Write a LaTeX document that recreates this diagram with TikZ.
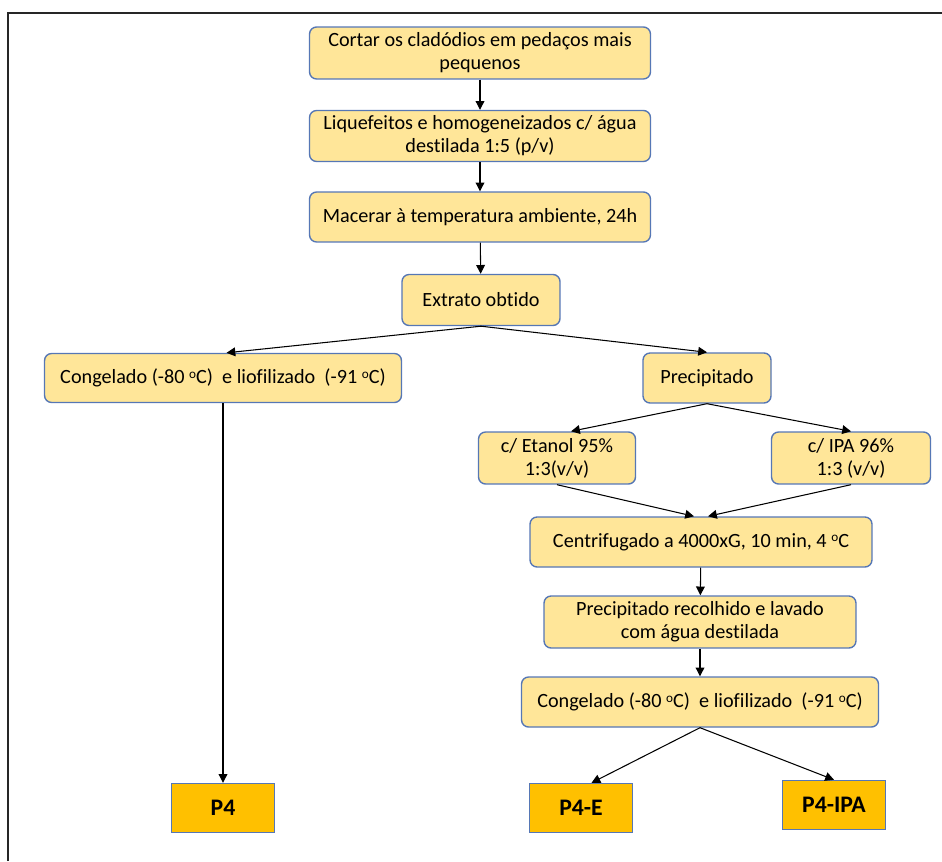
\documentclass[tikz,border=0pt]{standalone}
\usepackage{fontspec}
\setmainfont[Ligatures=NoCommon]{Carlito}
\usepackage{tikz}
\usepackage{xcolor}
\usetikzlibrary{arrows.meta, positioning}
\definecolor{boxfill}{HTML}{FFE699}
\definecolor{boxline}{HTML}{5677B5}
\definecolor{endfill}{HTML}{FFC000}
\tikzstyle{process} = [draw=boxline, fill=boxfill, rounded corners=4pt, thick, align=center, minimum height=1cm, inner sep=2pt, font=\fontsize{11.5}{13}\selectfont]
\tikzstyle{product} = [draw=boxline, fill=endfill, thick, minimum width=2.05cm, minimum height=0.98cm, font=\fontsize{13.5}{15}\selectfont\bfseries]
\tikzstyle{arrow} = [semithick,-{Triangle[length=5pt,width=5pt]}]
\newcommand{\dego}{\raisebox{0.55ex}{\fontsize{7.5}{8}\selectfont o}}

\begin{document}
\begin{tikzpicture}[x=0.02cm, y=-0.02cm]
    \useasboundingbox (0,0) rectangle (942,861);
    % Outline of the frame
    \draw[line width=1.3pt, black!85] (8,861) -- (8,13) -- (942,13);

    % Main column
    \node (corte) [process, minimum width=6.82cm, minimum height=1.04cm] at (480,53) {Cortar os cladódios em pedaços mais\\pequenos};
    \node (liquef) [process, minimum width=6.82cm, minimum height=1.02cm] at (480,136) {Liquefeitos e homogeneizados c/ água\\destilada 1:5 (p/v)};
    \node (macer) [process, minimum width=6.82cm] at (480,217) {Macerar à temperatura ambiente, 24h};
    \node (extrato) [process, minimum width=3.16cm, minimum height=1.02cm] at (481,300) {Extrato obtido};

    % Left branch
    \node (congA) [process, minimum width=7.14cm, minimum height=0.98cm] at (223,378) {Congelado (-80 \dego C) ~e liofilizado ~(-91 \dego C)};
    \node (pfour) [product] at (223,808) {P4};

    % Right branch
    \node (precip) [process, minimum width=2.56cm] at (707,378) {Precipitado};
    \node (etanol) [process, minimum width=3.14cm, minimum height=1.04cm] at (557,458) {c/ Etanol 95\%\\1:3(v/v)};
    \node (ipa) [process, minimum width=3.18cm, minimum height=1.04cm] at (851,458) {c/ IPA 96\%\\1:3 (v/v)};
    \node (centrif) [process, minimum width=6.84cm] at (701,542) {Centrifugado a 4000xG, 10 min, 4 \dego C};
    \node (recolh) [process, minimum width=6.24cm, minimum height=1.04cm] at (700,622) {Precipitado recolhido e lavado\\com água destilada};
    \node (congB) [process, minimum width=7.14cm] at (700,702) {Congelado (-80 \dego C) ~e liofilizado ~(-91 \dego C)};
    \node (pfourE) [product] at (581,808) {P4-E};
    \node (pfourIPA) [product] at (834,805) {P4-IPA};

    % Connectors
    \draw[arrow] (corte) -- (liquef);
    \draw[arrow] (liquef) -- (macer);
    \draw[arrow] (macer) -- (extrato);
    \draw[arrow] (extrato.south) -- ([xshift=2pt]congA.north);
    \draw[arrow] (extrato.south) -- (precip.north);
    \draw[arrow] (congA) -- (pfour);
    \draw[arrow] (precip.south) -- ([xshift=8pt]etanol.north);
    \draw[arrow] (precip.south) -- (ipa.north);
    \draw[arrow] (etanol.south) -- ([xshift=-4pt]centrif.north);
    \draw[arrow] (ipa.south) -- ([xshift=4pt]centrif.north);
    \draw[arrow] (centrif) -- (recolh);
    \draw[arrow] (recolh) -- (congB);
    \draw[arrow] (congB.south) -- ([xshift=6pt]pfourE.north);
    \draw[arrow] (congB.south) -- (pfourIPA.north);
\end{tikzpicture}
\end{document}
